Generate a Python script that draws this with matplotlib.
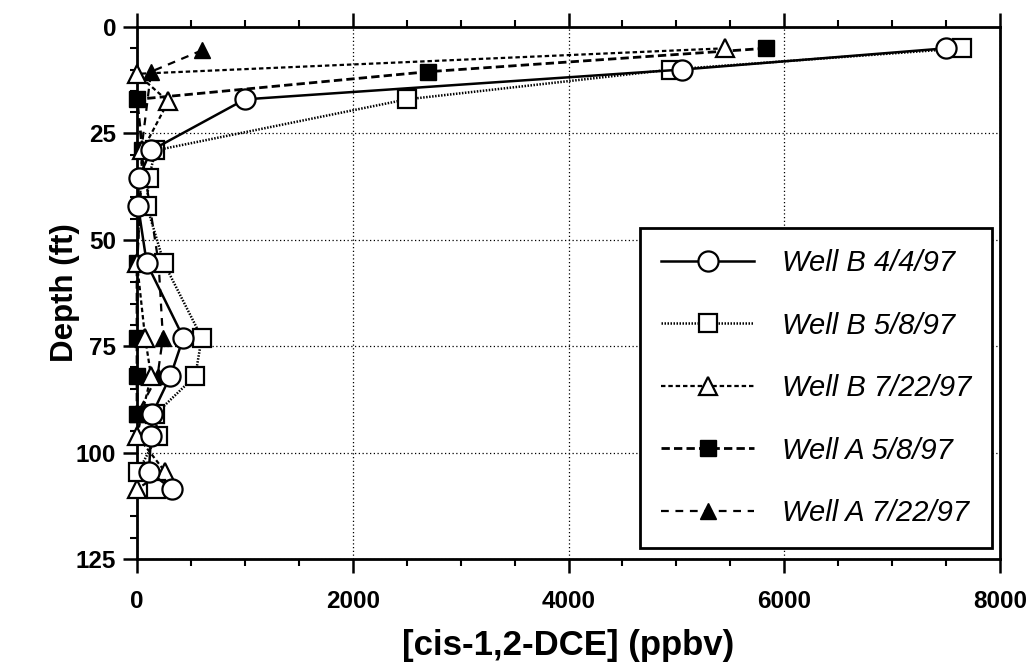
import matplotlib
matplotlib.use("Agg")
import matplotlib.pyplot as plt
from matplotlib.ticker import MultipleLocator

plt.rcParams['font.family'] = ['Liberation Sans', 'DejaVu Sans']

# Depth profiles of cis-1,2-DCE soil gas (ppbv) versus depth (ft)
depth_b = [5, 10, 17, 29, 35.5, 42, 55.5, 73, 82, 91, 96, 104.5, 108.5]
well_b_0404 = [7500, 5050, 1000, 130, 15, 10, 90, 430, 310, 140, 130, 110, 320]
well_b_0508 = [7650, 4950, 2500, 170, 110, 90, 250, 600, 540, 170, 190, 10, 180]

depth_b_0722 = [5, 11, 17.5, 29, 55.5, 73, 82, 96, 104.5, 108.5]
well_b_0722 = [5450, 0, 290, 50, 0, 75, 130, 0, 260, 0]

depth_a_0508 = [5, 10.5, 17, 29, 55.5, 73, 82, 91]
well_a_0508 = [5830, 2700, 0, 50, 0, 0, 0, 0]

depth_a_0722 = [5.5, 10.5, 29, 55.5, 73, 82, 91, 96]
well_a_0722 = [600, 130, 40, 200, 240, 190, 0, 0]

labels = ["Well B 4/4/97", "Well B 5/8/97", "Well B 7/22/97",
          "Well A 5/8/97", "Well A 7/22/97"]

fig = plt.figure(figsize=(10.31, 6.67), dpi=100)
ax = fig.add_axes([0.1329, 0.162, 0.8371, 0.7975])

mew = 1.6
h1, = ax.plot(well_b_0404, depth_b, '-', color='black', lw=1.8,
              marker='o', ms=14.5, mfc='white', mec='black', mew=mew,
              clip_on=False, zorder=5, label=labels[0])
h2, = ax.plot(well_b_0508, depth_b, color='black', lw=1.8, ls=(0, (0.6, 0.6)),
              marker='s', ms=13, mfc='white', mec='black', mew=mew,
              clip_on=False, zorder=4, label=labels[1])
h3, = ax.plot(well_b_0722, depth_b_0722, color='black', lw=1.6, ls=(0, (2, 1.3)),
              marker='^', ms=13.5, mfc='white', mec='black', mew=mew,
              clip_on=False, zorder=3.5, label=labels[2])
h4, = ax.plot(well_a_0508, depth_a_0508, color='black', lw=2.0, ls=(0, (3, 1.5)),
              marker='s', ms=11, mfc='black', mec='black', mew=1,
              clip_on=False, zorder=3, label=labels[3])
h5, = ax.plot(well_a_0722, depth_a_0722, color='black', lw=1.6, ls=(0, (3.5, 3)),
              marker='^', ms=11.5, mfc='black', mec='black', mew=1,
              clip_on=False, zorder=2.5, label=labels[4])

ax.set_xlim(0, 8000)
ax.set_ylim(125, 0)

ax.xaxis.set_major_locator(MultipleLocator(2000))
ax.xaxis.set_minor_locator(MultipleLocator(500))
ax.yaxis.set_major_locator(MultipleLocator(25))
ax.yaxis.set_minor_locator(MultipleLocator(5))

ax.tick_params(axis='x', which='both', direction='out', top=True, bottom=True)
ax.tick_params(axis='y', which='both', direction='out', left=True, right=False)
ax.tick_params(which='major', length=10, width=1.8, labelsize=17.5)
ax.tick_params(which='minor', length=5, width=1.5)
ax.tick_params(axis='x', pad=12)
ax.tick_params(axis='y', pad=5)
for lab in ax.get_xticklabels() + ax.get_yticklabels():
    lab.set_fontweight('bold')

for sp in ax.spines.values():
    sp.set_linewidth(2.0)

ax.grid(True, which='major', color='black', ls=(0, (1, 2)), lw=0.9)
ax.set_axisbelow(True)

ax.set_xlabel("[cis-1,2-DCE] (ppbv)", fontsize=25, fontweight='bold', labelpad=12)
ax.set_ylabel("Depth (ft)", fontsize=22.5, fontweight='bold', labelpad=-3)

leg = ax.legend(handles=[h1, h2, h3, h4, h5], loc='lower right',
                bbox_to_anchor=(0.991, 0.0207),
                prop={'style': 'italic', 'size': 21},
                handlelength=3.2, handletextpad=0.95, labelspacing=1.18,
                borderpad=0.72, borderaxespad=0, fancybox=False,
                framealpha=1, edgecolor='black', markerscale=1.0)
leg.get_frame().set_linewidth(2.0)
leg.set_zorder(10)

fig.savefig("out.png", dpi=100)
